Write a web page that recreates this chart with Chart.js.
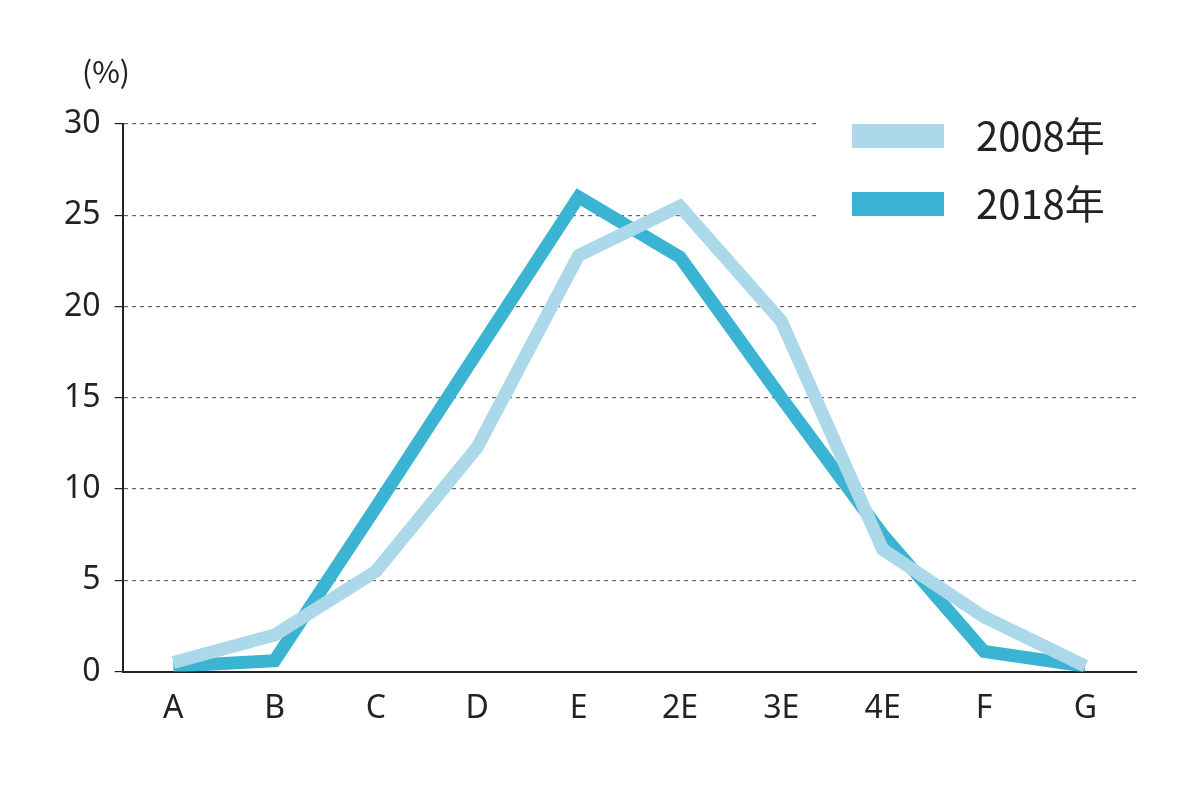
<!DOCTYPE html>
<html>
<head>
<meta charset="utf-8">
<script src="https://cdn.jsdelivr.net/npm/chart.js@4"></script>
<style>
  html, body { margin: 0; background: #fff; }
  #wrap { width: 1200px; height: 796px; }
</style>
</head>
<body>
<div id="wrap"><canvas id="chart"></canvas></div>
<script>
const categories = ["A", "B", "C", "D", "E", "2E", "3E", "4E", "F", "G"];
const values2008 = [0.5, 2, 5.5, 12.3, 22.8, 25.5, 19.2, 6.7, 3, 0.3];
const values2018 = [0.3, 0.6, 9, 17.5, 26, 22.7, 15, 7.5, 1.1, 0.3];
const seriesLabels = ["2008年", "2018年"];
const seriesColors = ["#acd9e9", "#3bb4d4"];

// legend and unit label drawn on the canvas, legend over the grid
const extras = {
  id: "extras",
  afterDraw(chart) {
    const ctx = chart.ctx;
    ctx.save();
    ctx.fillStyle = "#222";
    ctx.font = "30px 'Noto Sans CJK JP', 'Noto Sans', sans-serif";
    ctx.textAlign = "center";
    ctx.textBaseline = "middle";
    ctx.fillText("(%)", 106, 72);
    ctx.restore();
  },
  beforeDatasetsDraw(chart) {
    const ctx = chart.ctx;
    ctx.save();
    ctx.fillStyle = "#fff";
    ctx.fillRect(818, 100, 380, 150);
    seriesLabels.forEach((lab, i) => {
      const y = 136 + i * 68;
      ctx.strokeStyle = seriesColors[i];
      ctx.lineWidth = 24;
      ctx.beginPath();
      ctx.moveTo(852, y);
      ctx.lineTo(944, y);
      ctx.stroke();
      ctx.fillStyle = "#222";
      ctx.font = "40px 'Noto Sans CJK JP', 'Noto Sans', sans-serif";
      ctx.textBaseline = "middle";
      ctx.fillText(lab, 976, y);
    });
    ctx.restore();
  }
};

new Chart(document.getElementById("chart"), {
  type: "line",
  data: {
    labels: categories,
    datasets: [
      { label: seriesLabels[0], data: values2008, borderColor: seriesColors[0], borderWidth: 13, pointRadius: 0, tension: 0 },
      { label: seriesLabels[1], data: values2018, borderColor: seriesColors[1], borderWidth: 13, pointRadius: 0, tension: 0 }
    ]
  },
  options: {
    responsive: true,
    maintainAspectRatio: false,
    animation: false,
    layout: { padding: { top: 124, right: 64, bottom: 50, left: 50 } },
    plugins: { legend: { display: false }, tooltip: { enabled: false } },
    scales: {
      x: {
        offset: true,
        grid: { display: false, drawTicks: false },
        border: { color: "#222", width: 2 },
        ticks: { color: "#222", font: { size: 32, family: "'Noto Sans', sans-serif" }, padding: 18 }
      },
      y: {
        min: 0, max: 30,
        ticks: { stepSize: 5, color: "#222", font: { size: 32, family: "'Noto Sans', sans-serif" }, padding: 14 },
        grid: { color: "#666", lineWidth: 1.2, drawTicks: true, tickLength: 8, tickColor: "#222", tickBorderDash: [] },
        border: { color: "#222", width: 2, dash: [4, 4] }
      }
    }
  },
  plugins: [extras]
});
</script>
</body>
</html>
